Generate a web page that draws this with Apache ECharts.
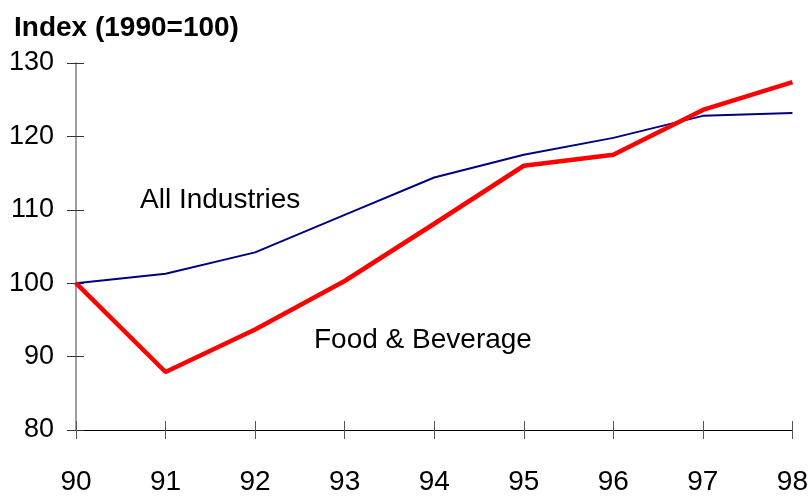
<!DOCTYPE html>
<html>
<head>
<meta charset="utf-8">
<script src="https://cdn.jsdelivr.net/npm/echarts@6/dist/echarts.min.js"></script>
<style>
  html, body { margin: 0; padding: 0; background: #fff; }
  #chart { width: 811px; height: 496px; }
</style>
</head>
<body>
<div id="chart"></div>
<script>
// Years on the horizontal axis
const years = ['90', '91', '92', '93', '94', '95', '96', '97', '98'];
// Index values, 1990 = 100
const allIndustries = [100, 101.3, 104.2, 109.3, 114.4, 117.5, 119.8, 122.8, 123.2];
const foodBeverage = [100, 87.9, 93.7, 100.3, 108.1, 116.0, 117.5, 123.6, 127.4];

const FONT = '"Liberation Sans", Arial, sans-serif';

const chart = echarts.init(document.getElementById('chart'), null, { renderer: 'canvas' });

const yBase = { type: 'value', min: 80, max: 130, interval: 10, position: 'left' };
const xBase = { type: 'category', data: years, boundaryGap: false, position: 'bottom' };

chart.setOption({
  animation: false,
  backgroundColor: '#ffffff',
  grid: { left: 76, right: 18, top: 63, bottom: 61, containLabel: false },
  title: {
    text: 'Index (1990=100)',
    left: 9, top: 9,
    textStyle: { fontFamily: FONT, fontSize: 28, fontWeight: 'bold', color: '#000' }
  },
  xAxis: [
    Object.assign({}, xBase, {
      axisLine: { show: true, lineStyle: { color: '#000', width: 1 } },
      axisTick: { show: true, alignWithLabel: true, length: 9, lineStyle: { color: '#555' } },
      axisLabel: { fontFamily: FONT, fontSize: 28, color: '#000', margin: 38 },
      splitLine: { show: false }
    }),
    Object.assign({}, xBase, {
      axisLine: { show: false },
      axisTick: { show: true, inside: true, length: 9, lineStyle: { color: '#555' } },
      axisLabel: { show: false },
      splitLine: { show: false }
    })
  ],
  yAxis: [
    Object.assign({}, yBase, {
      axisLine: { show: true, lineStyle: { color: '#808080', width: 1.5 } },
      axisTick: { show: true, length: 9, lineStyle: { color: '#333' } },
      axisLabel: { fontFamily: FONT, fontSize: 27, color: '#000', margin: 22 },
      splitLine: { show: false }
    }),
    Object.assign({}, yBase, {
      axisLine: { show: false },
      axisTick: { show: true, inside: true, length: 8, lineStyle: { color: '#333' } },
      axisLabel: { show: false },
      splitLine: { show: false }
    })
  ],
  series: [
    {
      name: 'All Industries',
      type: 'line',
      data: allIndustries,
      showSymbol: false,
      lineStyle: { color: '#000080', width: 2 },
      z: 2
    },
    {
      name: 'Food & Beverage',
      type: 'line',
      data: foodBeverage,
      showSymbol: false,
      lineStyle: { color: '#ff0000', width: 4.5 },
      z: 3
    }
  ],
  graphic: [
    {
      type: 'text', left: 140, top: 186,
      style: { text: 'All Industries', fontFamily: FONT, fontSize: 28, fill: '#000' }
    },
    {
      type: 'text', left: 314, top: 326,
      style: { text: 'Food & Beverage', fontFamily: FONT, fontSize: 28, fill: '#000' }
    }
  ]
});
</script>
</body>
</html>
